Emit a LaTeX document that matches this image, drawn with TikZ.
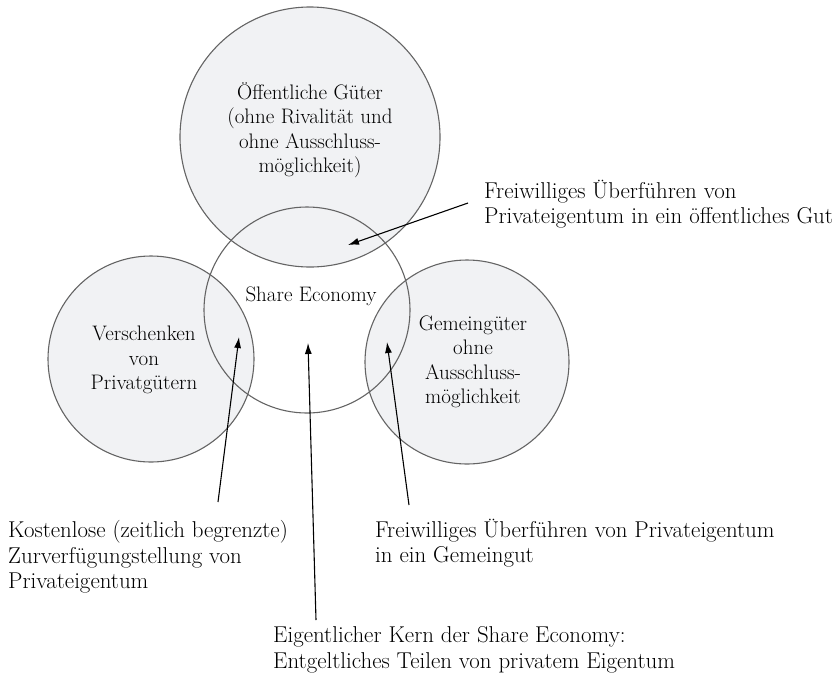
\documentclass[tikz,border=0pt]{standalone}
\usepackage{fontspec}
\usepackage{xcolor}
\usepackage{tikz}
\usetikzlibrary{arrows.meta}
\usetikzlibrary{positioning}
\definecolor{ringfill}{RGB}{241,242,244}
\definecolor{ringline}{RGB}{100,100,100}
\tikzset{>={Latex[length=11pt,width=7pt]}}
\tikzstyle{ring} = [circle, draw=ringline, line width=1.1pt, inner sep=0pt]
\tikzstyle{lbl} = [inner sep=0pt, font=\fontsize{21}{24.5}\selectfont]
\tikzstyle{note} = [inner sep=0pt, align=left, anchor=west, font=\fontsize{22.9}{25.5}\selectfont]
\tikzstyle{ptr} = [->, draw=black, line width=1.1pt]

\begin{document}
\begin{tikzpicture}[x=1pt, y=-1pt]
\useasboundingbox (0,0) rectangle (840,678);
% the four circles
\node [ring, fill=ringfill, minimum size=260pt] (OG) at (310,137) {};
\node [ring, fill=ringfill, minimum size=206pt] (VP) at (151,359) {};
\node [ring, fill=ringfill, minimum size=204pt] (GG) at (467,362) {};
\node [ring, minimum size=206pt] (SE) at (307,310) {};
% circle labels
\node [lbl, align=center] (OGt) at (310,130) {Öffentliche Güter\\(ohne Rivalität und\\ohne Ausschluss-\\möglichkeit)};
\node [lbl] (SEt) at (311,296) {Share Economy};
\node [lbl, align=center] (VPt) at (144,360) {Verschenken\\von\\Privatgütern};
\node [lbl, align=center] (GGt) at (473,362) {Gemeingüter\\ohne\\Ausschluss-\\möglichkeit};
% outer labels
\node [note] (Ot) at (484,204) {Freiwilliges Überführen von\\Privateigentum in ein öffentliches Gut};
\node [note] (Kt) at (8,557) {Kostenlose (zeitlich begrenzte)\\Zurverfügungstellung von\\Privateigentum};
\node [note] (Ft) at (375,543) {Freiwilliges Überführen von Privateigentum\\in ein Gemeingut};
\node [note] (Et) at (273,650) {Eigentlicher Kern der Share Economy:\\Entgeltliches Teilen von privatem Eigentum};
% arrow ends
\coordinate (tailO) at (468,203);
\coordinate (tipO) at (348,245);
\coordinate (tailK) at (218,502);
\coordinate (tipK) at (239,337);
\coordinate (tailE) at (316,620);
\coordinate (tipE) at (308,343);
\coordinate (tailF) at (409,505);
\coordinate (tipF) at (387,342);
\draw [ptr] (tailO) -- (tipO);
\draw [ptr] (tailK) -- (tipK);
\draw [ptr] (tailE) -- (tipE);
\draw [ptr] (tailF) -- (tipF);
\end{tikzpicture}
\end{document}
